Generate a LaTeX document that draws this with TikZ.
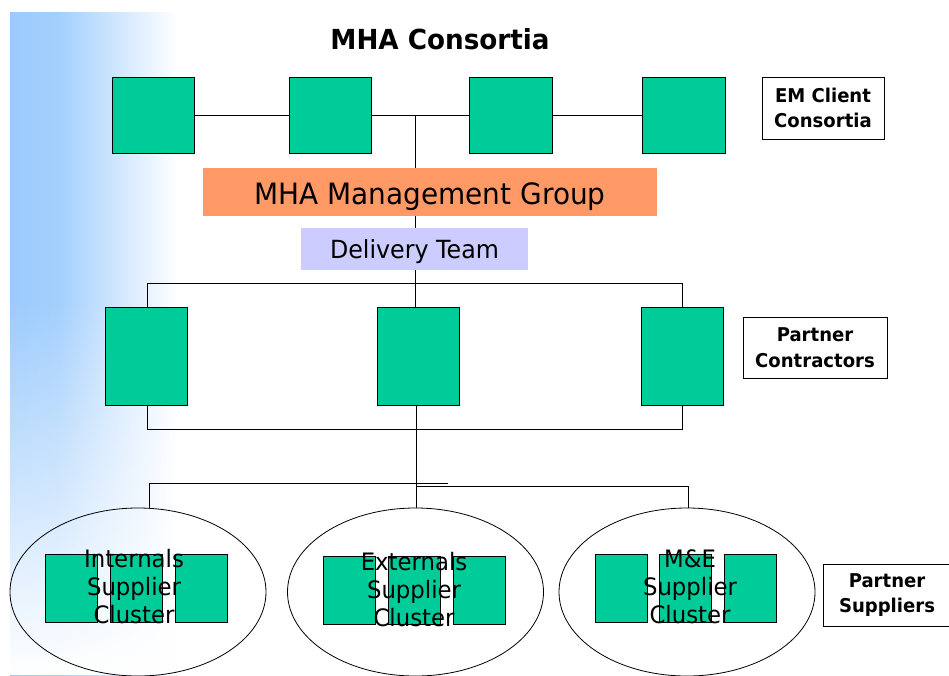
\documentclass[tikz,border=0pt]{standalone}
\usepackage{fontspec}
\setmainfont[FakeStretch=0.95]{DejaVu Sans}
\usetikzlibrary{fadings,shapes.geometric}
\definecolor{tealbox}{RGB}{0,204,153}
\definecolor{mgmt}{RGB}{255,153,102}
\definecolor{deliv}{RGB}{204,204,255}
\definecolor{bgblue}{RGB}{155,203,253}
\tikzfading[name=fadedown, top color=transparent!100, bottom color=transparent!0]
\pgfdeclarelayer{grad}
\pgfdeclarelayer{background}
\pgfsetlayers{grad,background,main}
\begin{document}
\begin{tikzpicture}[x=1pt,y=-1pt,
  tbox/.style={draw=black, line width=0.9pt, fill=tealbox, inner sep=0pt},
  lbox/.style={draw=black, line width=0.8pt, fill=white, align=center, inner sep=0pt, font=\fontsize{19}{25.5}\selectfont\bfseries},
  conn/.style={draw=black, line width=0.8pt},
  oval/.style={ellipse, draw=black, line width=0.8pt, inner sep=0pt, minimum width=256pt, minimum height=168pt},
  clabel/.style={align=center, font=\fontsize{24}{28}\selectfont}
]
\useasboundingbox (0,0) rectangle (949,675);
\begin{pgfonlayer}{grad}
  \shade[left color=bgblue, right color=bgblue!92] (10,12) rectangle (58,675);
  \shade[left color=bgblue!92, right color=white] (58,12) rectangle (178,675);
  \fill[white, path fading=fadedown] (10,300) rectangle (180,675);
\end{pgfonlayer}

\node[font=\fontsize{27.6}{32}\selectfont\bfseries] (title) at (440,39) {MHA Consortia};

% top row
\node[tbox, minimum width=82pt, minimum height=76pt] (c1) at (153,115) {};
\node[tbox, minimum width=82pt, minimum height=76pt] (c2) at (330,115) {};
\node[tbox, minimum width=83pt, minimum height=76pt] (c3) at (510.5,115) {};
\node[tbox, minimum width=83pt, minimum height=76pt] (c4) at (683.5,115) {};
\coordinate (j1) at (415,115);

\node[fill=mgmt, minimum width=454pt, minimum height=48pt, inner sep=0pt, text height=24pt, text depth=0pt, font=\fontsize{29.4}{32}\selectfont] (mg) at (430,192) {MHA Management Group};
\node[fill=deliv, minimum width=227pt, minimum height=42pt, inner sep=0pt, text height=18pt, text depth=0pt, font=\fontsize{25}{28}\selectfont] (dt) at (414.5,249) {Delivery Team};

% middle row
\node[tbox, minimum width=82pt, minimum height=98pt] (r1) at (146,356) {};
\node[tbox, minimum width=82pt, minimum height=98pt] (r2) at (418,356) {};
\node[tbox, minimum width=82pt, minimum height=98pt] (r3) at (682,356) {};
\coordinate (t1) at (147,283);
\coordinate (t3) at (682,283);
\coordinate (b1) at (147,429);
\coordinate (b3) at (682,429);

% bottom row
\node[oval] (e1) at (138,592) {};
\node[oval] (e2) at (415.5,592) {};
\node[oval] (e3) at (687,592) {};
\coordinate (h1) at (149,483);
\coordinate (h1e) at (448,483);
\coordinate (h3s) at (416,486);
\coordinate (h3) at (688,486);

\foreach \nm/\x/\y in {a1/71/588, b1x/136/588, c1x/201/588,
                       a2/349.5/590.5, b2x/414/590.5, c2x/479/590.5,
                       a3/621/588, b3x/685.5/588, c3x/750.5/588}
  \node[tbox, minimum width=52pt, minimum height=68pt] (\nm) at (\x,\y) {};

\node[clabel] (l1) at (134,587) {Internals\\Supplier\\Cluster};
\node[clabel] (l2) at (414,590) {Externals\\Supplier\\Cluster};
\node[clabel] (l3) at (690,587) {M\&E\\Supplier\\Cluster};

% right labels
\node[lbox, minimum width=122pt, minimum height=62pt] (em) at (823,108) {EM Client\\Consortia};
\node[lbox, minimum width=144pt, minimum height=61pt] (pc) at (815,347.5) {Partner\\Contractors};
\node[lbox, minimum width=128pt, minimum height=62pt] (ps) at (887,595) {Partner\\Suppliers};

\begin{pgfonlayer}{background}
  \draw[conn] (c1.east) -- (c2.west);
  \draw[conn] (c2.east) -- (c3.west);
  \draw[conn] (c3.east) -- (c4.west);
  \draw[conn] (j1) -- (j1 |- r2.north);
  \draw[conn] (t1) -- (t3);
  \draw[conn] (t1) -- (t1 |- r1.north);
  \draw[conn] (t3) -- (t3 |- r3.north);
  \draw[conn] (r1.south -| b1) -- (b1) -- (b3) -- (r3.south -| b3);
  \draw[conn] (r2.south -| h3s) -- (e2.north -| h3s);
  \draw[conn] (h1) -- (h1e);
  \draw[conn] (h3s) -- (h3);
  \draw[conn] (h1) -- (h1 |- e1.north);
  \draw[conn] (h3) -- (h3 |- e3.north);
\end{pgfonlayer}
\end{tikzpicture}
\end{document}
